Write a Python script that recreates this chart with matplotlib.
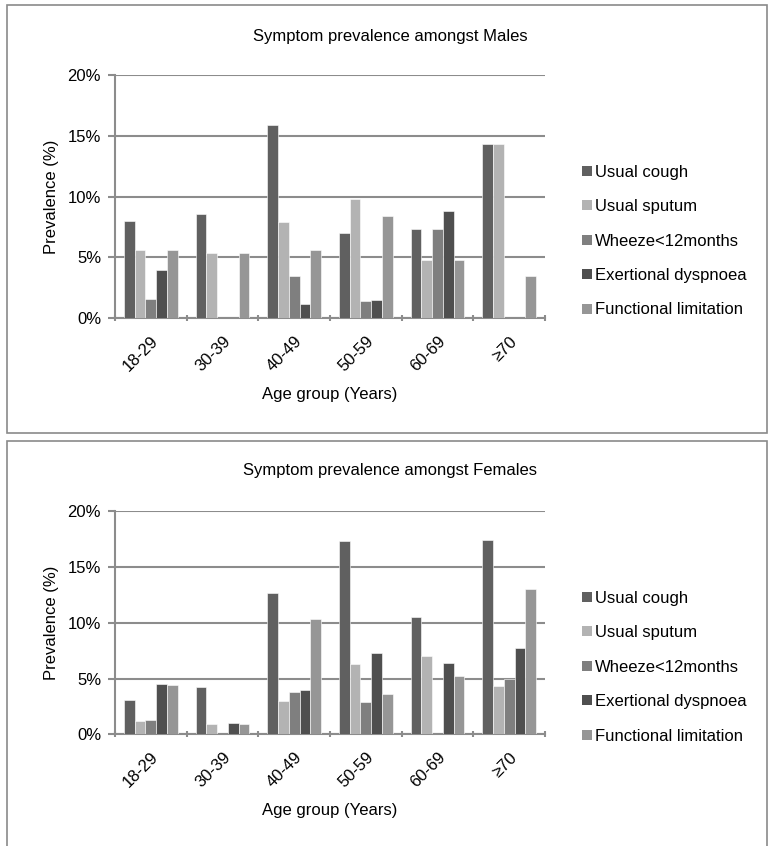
import matplotlib
matplotlib.use("Agg")
import matplotlib.pyplot as plt
from matplotlib.patches import Rectangle, Patch
from matplotlib.ticker import FixedLocator, FuncFormatter
import numpy as np

plt.rcParams['font.family'] = ['Liberation Sans', 'DejaVu Sans']

age_groups = ["18-29", "30-39", "40-49", "50-59", "60-69", "≥70"]
symptoms = ["Usual cough", "Usual sputum", "Wheeze<12months",
            "Exertional dyspnoea", "Functional limitation"]
colors = ["#606060", "#b3b3b3", "#7f7f7f", "#4f4f4f", "#969696"]

males = {
    "Usual cough":           [8.0, 8.6, 15.9, 7.0, 7.3, 14.3],
    "Usual sputum":          [5.6, 5.4, 7.9, 9.8, 4.8, 14.3],
    "Wheeze<12months":       [1.6, 0.0, 3.5, 1.4, 7.3, 0.0],
    "Exertional dyspnoea":   [4.0, 0.0, 1.2, 1.5, 8.8, 0.0],
    "Functional limitation": [5.6, 5.4, 5.6, 8.4, 4.8, 3.5],
}
females = {
    "Usual cough":           [3.1, 4.2, 12.7, 17.3, 10.5, 17.4],
    "Usual sputum":          [1.2, 0.9, 3.0, 6.3, 7.0, 4.3],
    "Wheeze<12months":       [1.3, 0.0, 3.8, 2.9, 0.0, 5.0],
    "Exertional dyspnoea":   [4.5, 1.0, 4.0, 7.3, 6.4, 7.7],
    "Functional limitation": [4.4, 0.9, 10.3, 3.6, 5.2, 13.0],
}
y_ticks = [0, 5, 10, 15, 20]

W, H = 768, 846
fig = plt.figure(figsize=(W / 100, H / 100), dpi=100)

def px(x0, y0, x1, y1):
    return [x0 / W, (H - y1) / H, (x1 - x0) / W, (y1 - y0) / H]

# panel borders
fig.patches.append(Rectangle((7 / W, (H - 433) / H), (767 - 7) / W, (433 - 5) / H,
                             transform=fig.transFigure, fill=False,
                             edgecolor="#8a8a8a", linewidth=1.2))
fig.patches.append(Rectangle((7 / W, -0.01), (767 - 7) / W, (H - 441) / H + 0.01,
                             transform=fig.transFigure, fill=False,
                             edgecolor="#8a8a8a", linewidth=1.2))

grid_c = "#8c8c8c"
fs = 12

def draw(rect, data, title, title_y, legend_y):
    ax = fig.add_axes(px(*rect))
    n = len(symptoms)
    bw = 0.149
    x = np.arange(len(age_groups))
    for i, s in enumerate(symptoms):
        vals = np.array(data[s], dtype=float)
        vals = np.where(vals > 0, vals, np.nan)
        ax.bar(x + (i - (n - 1) / 2) * bw, vals, width=bw, color=colors[i],
               edgecolor="white", linewidth=0.4, zorder=3)
    ax.set_xlim(-0.5, len(age_groups) - 0.5)
    ax.set_ylim(0, 20)
    ax.yaxis.set_major_locator(FixedLocator(y_ticks))
    ax.yaxis.set_major_formatter(FuncFormatter(lambda v, p: f"{int(v)}%"))
    ax.grid(axis="y", color=grid_c, linewidth=1.5, zorder=0)
    ax.set_axisbelow(True)
    ax.set_xticks(np.arange(-0.5, len(age_groups)), minor=False)
    ax.set_xticklabels([])
    ax.set_xticks(x, minor=True)
    ax.set_xticklabels(age_groups, minor=True, rotation=45, ha="right",
                       va="top", rotation_mode="anchor", fontsize=fs)
    ax.tick_params(axis="x", which="minor", length=0, pad=11)
    ax.tick_params(axis="x", which="major", length=5, color=grid_c, width=1.5,
                   direction="inout")
    ax.tick_params(axis="y", length=5, color=grid_c, width=1.5, labelsize=fs, pad=5)
    for sp in ["top", "right"]:
        ax.spines[sp].set_visible(False)
    for sp in ["left", "bottom"]:
        ax.spines[sp].set_color(grid_c)
        ax.spines[sp].set_linewidth(1.5)
    ax.set_ylabel("Prevalence (%)", fontsize=fs, labelpad=6)
    ax.set_xlabel("Age group (Years)", fontsize=fs, labelpad=9)
    fig.text(390 / W, (H - title_y) / H, title, ha="center", va="center", fontsize=fs)
    handles = [Patch(facecolor=c, edgecolor="none") for c in colors]
    fig.legend(handles, symptoms, loc="center left",
               bbox_to_anchor=(574 / W, (H - legend_y) / H),
               frameon=False, fontsize=fs, handlelength=0.55, handleheight=0.55,
               handletextpad=0.2, labelspacing=1.17, borderpad=0)
    return ax

draw((115, 75, 545, 318.3), males, "Symptom prevalence amongst Males", 37, 241)
draw((115, 511.3, 545, 734.3), females, "Symptom prevalence amongst Females", 470, 667)

fig.savefig("out.png", dpi=100)
